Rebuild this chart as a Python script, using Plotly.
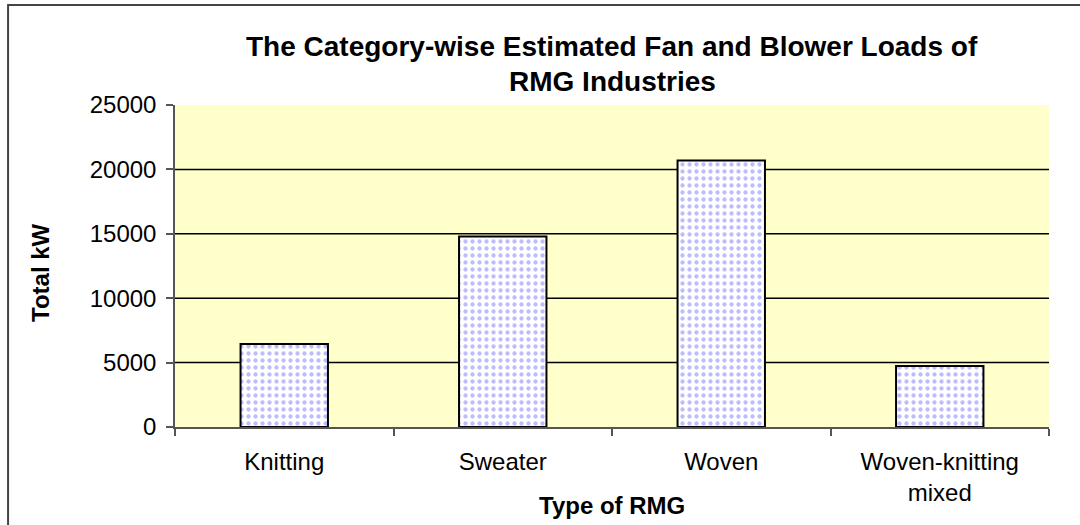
import plotly.graph_objects as go

# Category-wise estimated fan and blower loads (kW)
categories = ["Knitting", "Sweater", "Woven", "Woven-knitting<br>mixed"]
total_kw = [6450, 14800, 20700, 4730]
y_ticks = [0, 5000, 10000, 15000, 20000, 25000]
grid_values = [5000, 10000, 15000, 20000]

FONT = "Liberation Sans, Arial, sans-serif"

fig = go.Figure()
fig.add_trace(go.Bar(
    x=categories,
    y=total_kw,
    width=0.4,
    marker=dict(
        color="white",
        line=dict(color="black", width=2),
        pattern=dict(shape=".", fgcolor="#7a7aff", bgcolor="white",
                     size=7, solidity=0.3, fillmode="overlay"),
    ),
    hoverinfo="x+y",
))

shapes = []
# horizontal gridlines inside the plot area
for v in grid_values:
    shapes.append(dict(type="line", xref="paper", yref="y", x0=0, x1=1,
                       y0=v, y1=v, line=dict(color="black", width=1.5),
                       layer="below"))
# outer chart frame
shapes.append(dict(type="rect", xref="paper", yref="paper",
                   x0=-0.191, x1=1.2, y0=-0.6, y1=1.3106,
                   line=dict(color="#444444", width=2), fillcolor="rgba(0,0,0,0)"))

fig.update_layout(
    width=1080, height=525,
    margin=dict(l=175, r=31, t=105, b=98),
    paper_bgcolor="white",
    plot_bgcolor="#ffffcc",
    showlegend=False,
    bargap=0.6,
    font=dict(family=FONT, size=24, color="black"),
    shapes=shapes,
    annotations=[
        dict(text="<b>The Category-wise Estimated Fan and Blower Loads of</b>",
             xref="paper", yref="paper", x=0.5, y=1.0 + (105 - 46) / 322,
             xanchor="center", yanchor="middle", showarrow=False,
             font=dict(family=FONT, size=28, color="black")),
        dict(text="<b>RMG Industries</b>",
             xref="paper", yref="paper", x=0.5, y=1.0 + (105 - 81) / 322,
             xanchor="center", yanchor="middle", showarrow=False,
             font=dict(family=FONT, size=28, color="black")),
        dict(text="<b>Type of RMG</b>",
             xref="paper", yref="paper", x=0.5, y=-(505 - 427) / 322,
             xanchor="center", yanchor="middle", showarrow=False,
             font=dict(family=FONT, size=24, color="black")),
        dict(text="<b>Total kW</b>", textangle=-90,
             xref="paper", yref="paper", x=(40 - 175) / 874, y=(427 - 273) / 322,
             xanchor="center", yanchor="middle", showarrow=False,
             font=dict(family=FONT, size=24, color="black")),
    ],
)

fig.update_xaxes(
    type="category",
    showline=True, linecolor="#555555", linewidth=1.5,
    ticks="outside", tickson="boundaries", ticklen=7, tickcolor="#555555",
    tickwidth=1.5, showgrid=False, ticklabelstandoff=12,
    tickfont=dict(family=FONT, size=24, color="black"),
)
fig.update_yaxes(
    range=[0, 25000],
    tickvals=y_ticks,
    ticktext=[str(v) for v in y_ticks],
    showline=True, linecolor="#555555", linewidth=1.5,
    ticks="outside", ticklen=7, tickcolor="#555555", tickwidth=1.5,
    showgrid=False, zeroline=False, ticklabelstandoff=5,
    tickfont=dict(family=FONT, size=24, color="black"),
)

fig.write_html("out.html")
